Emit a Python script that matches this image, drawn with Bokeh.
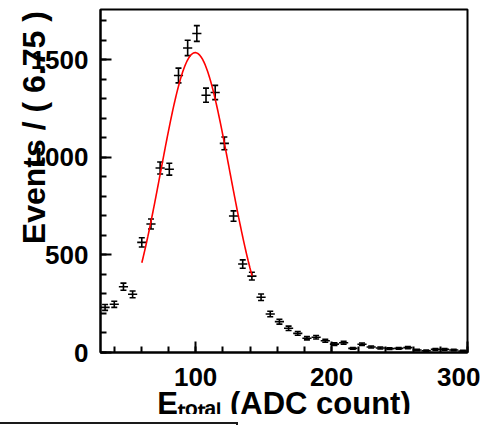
import numpy as np
from bokeh.plotting import figure
from bokeh.models import Whisker, TeeHead, ColumnDataSource, FixedTicker, Div
from bokeh.layouts import column
from bokeh.embed import file_html
from bokeh.resources import INLINE

# ---------------- data ----------------
bin_width = 6.75
bin_centers = [33.375, 40.125, 46.875, 53.625, 60.375, 67.125, 73.875, 80.625,
               87.375, 94.125, 100.875, 107.625, 114.375, 121.125, 127.875, 134.625,
               141.375, 148.125, 154.875, 161.625, 168.375, 175.125, 181.875, 188.625,
               195.375, 202.125, 208.875, 215.625, 222.375, 229.125, 235.875, 242.625,
               249.375, 256.125, 262.875, 269.625, 276.375, 283.125, 289.875, 296.625]
counts = [231, 247, 337, 298, 564, 658, 945, 939, 1419, 1560,
          1634, 1318, 1332, 1071, 699, 453, 391, 283, 197, 158,
          124, 98, 73, 78, 60, 43, 50, 21, 42, 28,
          23, 20, 21, 25, 13, 9, 16, 16, 13, 8]
# Gaussian fit parameters (amplitude, mean, sigma) and fit range
fit_amp, fit_mean, fit_sigma = 1536.0, 99.7, 25.3
fit_range = (60.4, 141.5)

x_ticks = [100, 200, 300]
x_minor = [40, 60, 80, 100, 120, 140, 160, 180, 200, 220, 240, 260, 280, 300]
y_ticks = [0, 500, 1000, 1500]
y_minor = list(range(0, 1800, 100))

x_title = "E\u209c\u2092\u209c\u2090\u2097 (ADC count)"
y_title = "Events / ( 6.75 )"

# ---------------- layout ----------------
FONT = "Liberation Sans"
W, H = 480, 440
L, R, T, B = 100, 13, 9, 88
x_lo, x_hi = 30, 300
y_lo, y_hi = 0, 1757

p = figure(width=W, height=H, x_range=(x_lo, x_hi), y_range=(y_lo, y_hi),
           output_backend="svg", toolbar_location=None,
           min_border_left=L, min_border_right=R, min_border_top=T, min_border_bottom=B)
p.grid.visible = False
p.outline_line_color = "black"
p.outline_line_width = 2
p.background_fill_color = "white"
p.border_fill_color = "white"

p.xaxis.ticker = FixedTicker(ticks=x_ticks, minor_ticks=x_minor)
p.yaxis.ticker = FixedTicker(ticks=y_ticks, minor_ticks=y_minor)
for ax in (p.xaxis[0], p.yaxis[0]):
    ax.axis_line_width = 2
    ax.axis_line_color = "black"
    ax.major_tick_in = 11
    ax.major_tick_out = 0
    ax.minor_tick_in = 6
    ax.minor_tick_out = 0
    ax.major_tick_line_width = 2
    ax.minor_tick_line_width = 2
    ax.major_label_text_font = FONT
    ax.major_label_text_font_style = "bold"
    ax.major_label_text_font_size = "26px"
    ax.major_label_text_color = "black"
    ax.axis_label_text_font = FONT
    ax.axis_label_text_font_style = "bold"
    ax.axis_label_text_color = "black"

p.xaxis.major_label_standoff = 15
p.yaxis.major_label_standoff = 12

p.xaxis.axis_label = x_title
p.xaxis.axis_label_text_font_size = "31px"
p.xaxis.axis_label_standoff = -3

# leading no-break spaces shift the centred title toward the top of the axis
p.yaxis.axis_label = "\u00a0" * 12 + y_title
p.yaxis.axis_label_text_font_size = "32px"
p.yaxis.axis_label_standoff = -24

# data with errors
counts_a = np.array(counts, dtype=float)
err = np.sqrt(counts_a)
centers = np.array(bin_centers)
src = ColumnDataSource(dict(x=centers, y=counts_a,
                            lo=counts_a - err, hi=counts_a + err,
                            xl=centers - bin_width / 2, xr=centers + bin_width / 2))
p.segment(x0="xl", y0="y", x1="xr", y1="y", source=src, line_color="black", line_width=1.6)
wh = Whisker(base="x", upper="hi", lower="lo", source=src, dimension="height",
             line_color="black", line_width=1.6,
             upper_head=TeeHead(size=6, line_width=1.6, line_color="black"),
             lower_head=TeeHead(size=6, line_width=1.6, line_color="black"))
p.add_layout(wh)

# fit curve
xf = np.linspace(fit_range[0], fit_range[1], 200)
yf = fit_amp * np.exp(-0.5 * ((xf - fit_mean) / fit_sigma) ** 2)
p.line(xf, yf, line_color="red", line_width=1.6)

cover_h = H - 414
box = Div(text='<div style="padding-top:8px;background:white;">'
               '<div style="width:238px;height:16px;'
               'border-top:2px solid #1a1a1a;border-right:2px solid #1a1a1a;"></div></div>',
          width=480, height=cover_h, margin=(-cover_h, 0, 0, 0),
          styles={"position": "relative", "z-index": "10", "background": "white"})

layout = column(p, box, spacing=0)
open("out.html", "w").write(file_html(layout, INLINE))
